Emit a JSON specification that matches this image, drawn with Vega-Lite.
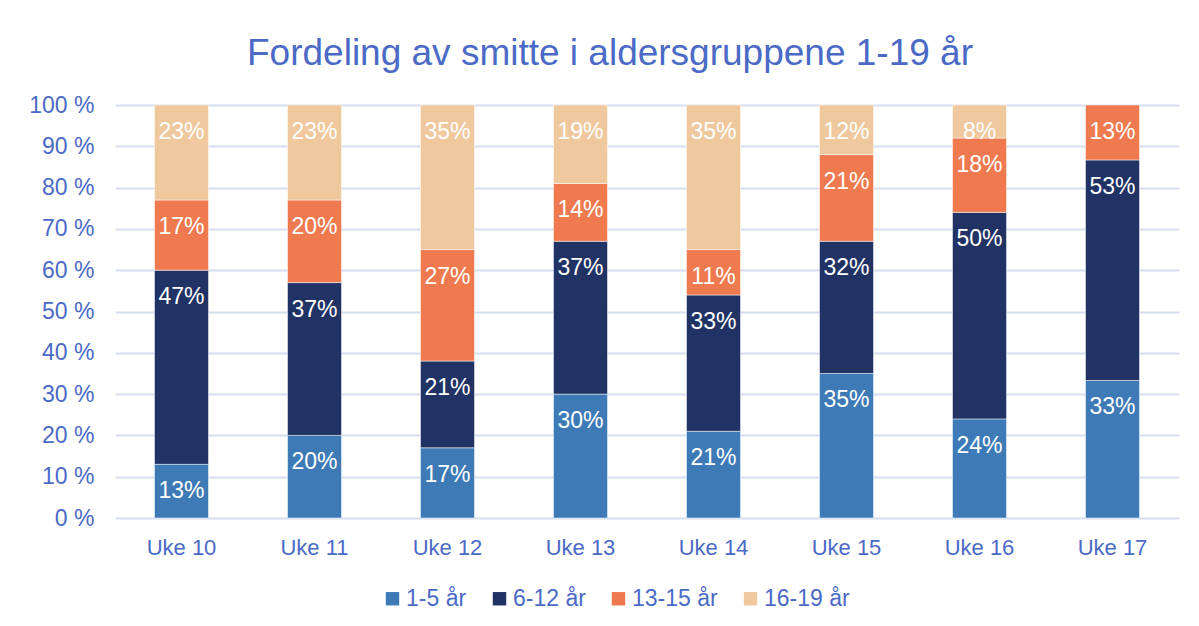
{
  "$schema": "https://vega.github.io/schema/vega-lite/v6.json",
  "width": 1064,
  "height": 413,
  "autosize": "none",
  "padding": {"left": 115, "top": 105, "right": 20, "bottom": 108},
  "background": "white",
  "title": {
    "text": "Fordeling av smitte i aldersgruppene 1-19 år",
    "font": "Liberation Sans",
    "fontSize": 37,
    "fontWeight": "normal",
    "color": "#4B6AC6",
    "anchor": "middle",
    "frame": "group",
    "baseline": "alphabetic",
    "offset": -8,
    "dx": -37
  },
  "data": {
    "values": [
      {"uke": "Uke 10", "gruppe": "1-5 år", "nr": 1, "andel": 0.13},
      {"uke": "Uke 10", "gruppe": "6-12 år", "nr": 2, "andel": 0.47},
      {"uke": "Uke 10", "gruppe": "13-15 år", "nr": 3, "andel": 0.17},
      {"uke": "Uke 10", "gruppe": "16-19 år", "nr": 4, "andel": 0.23},
      {"uke": "Uke 11", "gruppe": "1-5 år", "nr": 1, "andel": 0.20},
      {"uke": "Uke 11", "gruppe": "6-12 år", "nr": 2, "andel": 0.37},
      {"uke": "Uke 11", "gruppe": "13-15 år", "nr": 3, "andel": 0.20},
      {"uke": "Uke 11", "gruppe": "16-19 år", "nr": 4, "andel": 0.23},
      {"uke": "Uke 12", "gruppe": "1-5 år", "nr": 1, "andel": 0.17},
      {"uke": "Uke 12", "gruppe": "6-12 år", "nr": 2, "andel": 0.21},
      {"uke": "Uke 12", "gruppe": "13-15 år", "nr": 3, "andel": 0.27},
      {"uke": "Uke 12", "gruppe": "16-19 år", "nr": 4, "andel": 0.35},
      {"uke": "Uke 13", "gruppe": "1-5 år", "nr": 1, "andel": 0.30},
      {"uke": "Uke 13", "gruppe": "6-12 år", "nr": 2, "andel": 0.37},
      {"uke": "Uke 13", "gruppe": "13-15 år", "nr": 3, "andel": 0.14},
      {"uke": "Uke 13", "gruppe": "16-19 år", "nr": 4, "andel": 0.19},
      {"uke": "Uke 14", "gruppe": "1-5 år", "nr": 1, "andel": 0.21},
      {"uke": "Uke 14", "gruppe": "6-12 år", "nr": 2, "andel": 0.33},
      {"uke": "Uke 14", "gruppe": "13-15 år", "nr": 3, "andel": 0.11},
      {"uke": "Uke 14", "gruppe": "16-19 år", "nr": 4, "andel": 0.35},
      {"uke": "Uke 15", "gruppe": "1-5 år", "nr": 1, "andel": 0.35},
      {"uke": "Uke 15", "gruppe": "6-12 år", "nr": 2, "andel": 0.32},
      {"uke": "Uke 15", "gruppe": "13-15 år", "nr": 3, "andel": 0.21},
      {"uke": "Uke 15", "gruppe": "16-19 år", "nr": 4, "andel": 0.12},
      {"uke": "Uke 16", "gruppe": "1-5 år", "nr": 1, "andel": 0.24},
      {"uke": "Uke 16", "gruppe": "6-12 år", "nr": 2, "andel": 0.50},
      {"uke": "Uke 16", "gruppe": "13-15 år", "nr": 3, "andel": 0.18},
      {"uke": "Uke 16", "gruppe": "16-19 år", "nr": 4, "andel": 0.08},
      {"uke": "Uke 17", "gruppe": "1-5 år", "nr": 1, "andel": 0.333},
      {"uke": "Uke 17", "gruppe": "6-12 år", "nr": 2, "andel": 0.534},
      {"uke": "Uke 17", "gruppe": "13-15 år", "nr": 3, "andel": 0.133}
    ]
  },
  "encoding": {
    "x": {
      "field": "uke",
      "type": "nominal",
      "sort": null,
      "scale": {"paddingInner": 0.594, "paddingOuter": 0.297},
      "axis": {
        "title": null,
        "labelAngle": 0,
        "labelFont": "Liberation Sans",
        "labelFontSize": 22,
        "labelColor": "#4B6AC6",
        "labelPadding": 19,
        "ticks": false,
        "domain": false,
        "grid": false
      }
    },
    "y": {
      "field": "andel",
      "type": "quantitative",
      "stack": "normalize",
      "scale": {"domain": [0, 1], "nice": false},
      "axis": {
        "title": null,
        "values": [0, 0.1, 0.2, 0.3, 0.4, 0.5, 0.6, 0.7, 0.8, 0.9, 1],
        "labelExpr": "round(datum.value * 100) + ' %'",
        "labelFont": "Liberation Sans",
        "labelFontSize": 23,
        "labelColor": "#4B6AC6",
        "labelPadding": 21,
        "ticks": false,
        "domain": false,
        "grid": true,
        "gridColor": "#D6DDF0",
        "gridWidth": 2
      }
    },
    "order": {"field": "nr", "type": "quantitative", "sort": "ascending"}
  },
  "layer": [
    {
      "mark": {"type": "bar", "stroke": "white", "strokeWidth": 0.5},
      "encoding": {
        "color": {
          "field": "gruppe",
          "type": "nominal",
          "sort": ["1-5 år", "6-12 år", "13-15 år", "16-19 år"],
          "scale": {
            "domain": ["1-5 år", "6-12 år", "13-15 år", "16-19 år"],
            "range": ["#3D7AB6", "#213264", "#EF7A50", "#EFC89E"]
          },
          "legend": {
            "title": null,
            "orient": "none",
            "direction": "horizontal",
            "legendX": 266,
            "legendY": 482,
            "symbolType": "square",
            "symbolSize": 180,
            "symbolStrokeWidth": 0,
            "labelFont": "Liberation Sans",
            "labelFontSize": 23,
            "labelColor": "#4B6AC6",
            "labelOffset": 2,
            "columnPadding": 21
          }
        }
      }
    },
    {
      "mark": {
        "type": "text",
        "color": "white",
        "font": "Liberation Sans",
        "fontSize": 23,
        "baseline": "middle",
        "dy": 27
      },
      "encoding": {
        "text": {"field": "andel", "type": "quantitative", "format": ".0%"},
        "detail": {"field": "gruppe"}
      }
    }
  ],
  "config": {"view": {"stroke": null}}
}
